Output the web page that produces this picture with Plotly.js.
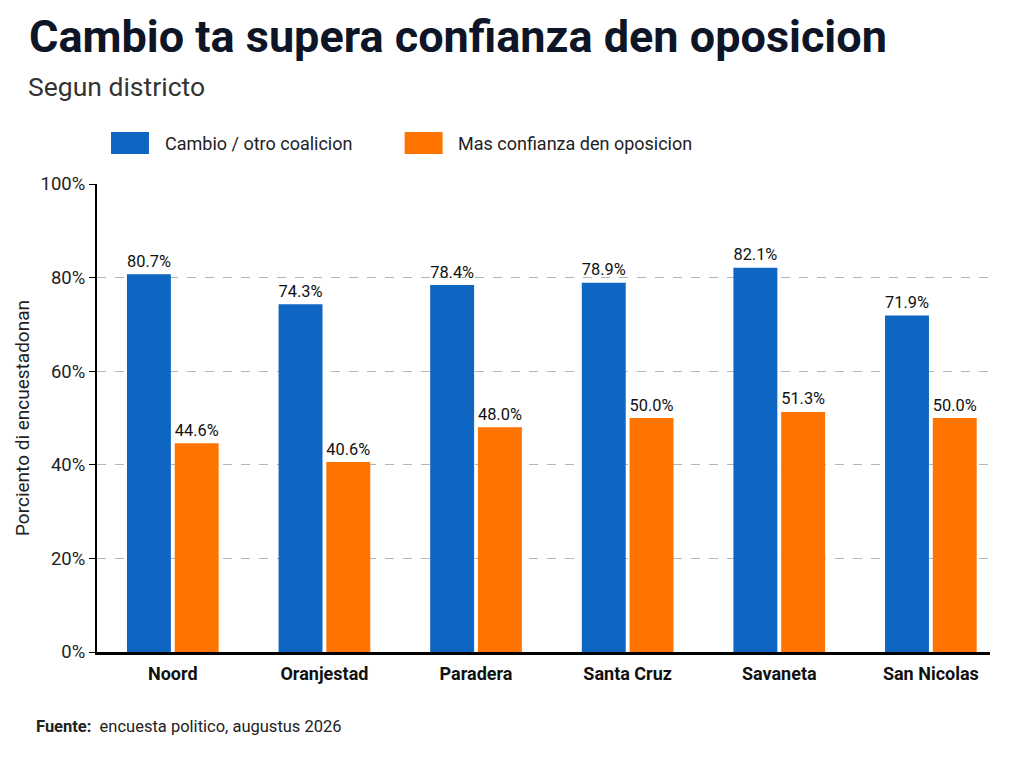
<!DOCTYPE html>
<html><head><meta charset="utf-8">
<script src="https://cdn.plot.ly/plotly-3.0.1.min.js"></script>
<style>html,body{margin:0;padding:0;background:#fff;}#chart{width:1024px;height:768px;}</style>
</head><body><div id="chart"></div>
<script>
var districts = ["Noord", "Oranjestad", "Paradera", "Santa Cruz", "Savaneta", "San Nicolas"];
var seriesNames = ["Cambio / otro coalicion", "Mas confianza den oposicion"];
var cambio = [80.7, 74.3, 78.4, 78.9, 82.1, 71.9];
var oposicion = [44.6, 40.6, 48.0, 50.0, 51.3, 50.0];
var colors = ["#0f66c2", "#ff7300"];
var yTicks = [0, 20, 40, 60, 80, 100];

var FONT = "Roboto, Arial, sans-serif";

function mk(vals, i) {
  return {
    type: "bar", x: districts, y: vals, name: seriesNames[i],
    marker: {color: colors[i]},
    text: vals.map(function(v){return v.toFixed(1) + "%";}),
    textposition: "outside", cliponaxis: false,
    textfont: {family: FONT, size: 18.5, color: "#111"},
    hoverinfo: "skip"
  };
}
var data = [mk(cambio, 0), mk(oposicion, 1)];

var shapes = [], annotations = [];
var legX = [0.0157, 0.3445];
for (var i = 0; i < 2; i++) {
  shapes.push({type: "rect", xref: "paper", yref: "paper",
    x0: legX[i], x1: legX[i] + 0.0425, y0: 1.064, y1: 1.111,
    fillcolor: colors[i], line: {width: 0}});
  annotations.push({xref: "paper", yref: "paper", x: legX[i] + 0.058, y: 1.0876,
    xanchor: "left", yanchor: "middle", text: seriesNames[i], showarrow: false,
    font: {family: FONT, size: 18, color: "#222"}});
}
annotations.push({xref: "paper", yref: "paper", x: -0.078, y: 1.316, xanchor: "left", yanchor: "middle",
  text: "<b>Cambio ta supera confianza den oposicion</b>", showarrow: false,
  font: {family: FONT, size: 45, color: "#0d1526"}});
annotations.push({xref: "paper", yref: "paper", x: -0.079, y: 1.209, xanchor: "left", yanchor: "middle",
  text: "Segun districto", showarrow: false,
  font: {family: FONT, size: 26.5, color: "#333"}});
annotations.push({xref: "paper", yref: "paper", x: -0.07, y: -0.160, xanchor: "left", yanchor: "middle",
  text: "<b>Fuente:</b>  encuesta politico, augustus 2026", showarrow: false,
  font: {family: FONT, size: 16.5, color: "#222"}});

var layout = {
  width: 1024, height: 768,
  margin: {l: 97, r: 34, t: 184, b: 116},
  paper_bgcolor: "#fff", plot_bgcolor: "#fff",
  showlegend: false,
  barmode: "group", bargap: 0.37, bargroupgap: 0.08,
  xaxis: {range: [-0.5, 5.39], showgrid: false, showline: true, linecolor: "#000", linewidth: 3,
    ticks: "", tickfont: {family: FONT, size: 18, color: "#111", weight: "bold"},
    ticklabelstandoff: 3, fixedrange: true},
  yaxis: {range: [0, 100], tickvals: yTicks, ticktext: yTicks.map(function(v){return v + "%";}),
    showgrid: true, gridcolor: "#b5b5b5", griddash: "dash", gridwidth: 1,
    showline: true, linecolor: "#000", linewidth: 2, ticks: "outside", ticklen: 6, tickcolor: "#000",
    tickfont: {family: FONT, size: 18.5, color: "#222"}, zeroline: false,
    title: {text: "Porciento di encuestadonan", font: {family: FONT, size: 19, color: "#222"}, standoff: 6}},
  shapes: shapes, annotations: annotations
};
Plotly.newPlot("chart", data, layout, {displayModeBar: false, staticPlot: true});
</script></body></html>
